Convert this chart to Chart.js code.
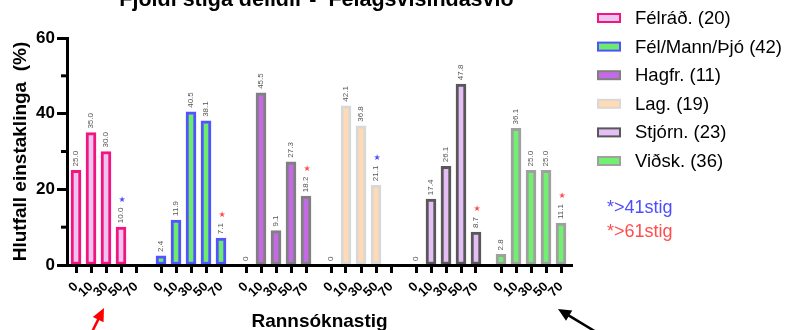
<!DOCTYPE html>
<html>
<head>
<meta charset="UTF-8">
<title>Fjöldi stiga deildir - Félagsvísindasvið</title>
<script src="https://cdn.jsdelivr.net/npm/chart.js"></script>
<style>
    html, body { margin: 0; padding: 0; background: #fff; }
    canvas { display: block; }
</style>
</head>
<body>
<canvas id="chart" width="789" height="330"></canvas>

<script>
    // Gögn
    const stig = ['0', '10', '30', '50', '70'];
    const deildir = ['Félráð. (20)', 'Fél/Mann/Þjó (42)', 'Hagfr. (11)', 'Lag. (19)', 'Stjórn. (23)', 'Viðsk. (36)'];
    const felrad = [25.0, 35.0, 30.0, 10.0, null];
    const felMann = [2.4, 11.9, 40.5, 38.1, 7.1];
    const hagfr = [0, 45.5, 9.1, 27.3, 18.2];
    const lag = [0, 42.1, 36.8, 21.1, null];
    const stjorn = [0, 17.4, 26.1, 47.8, 8.7];
    const vidsk = [2.8, 36.1, 25.0, 25.0, 11.1];
    // stjörnur: [deild, stig, mörk]
    const stjornur = [[0, 3, '41'], [1, 4, '61'], [2, 4, '61'], [3, 3, '41'], [4, 4, '61'], [5, 4, '61']];
    const skyringar = ['*>41stig', '*>61stig'];

    // Útlit
    const FONT = '"Liberation Sans", Arial, sans-serif';
    const borderColors = ['#f2157f', '#5252ff', '#808080', '#d8d8d8', '#585858', '#a0a0a0'];
    const fillColors = ['#eec4f0', '#6cec6c', '#c46ae6', '#ffdab2', '#e4bef4', '#72f072'];
    const starColors = { '41': '#4d4dff', '61': '#ff4d4d' };
    const noteColors = ['#4d4dff', '#ff4d4d'];

    const GROUP = 17, STEP = 3;
    const pos = (g, i) => g * GROUP + i * STEP;

    const values = [felrad, felMann, hagfr, lag, stjorn, vidsk];
    const tickPositions = [];
    const tickText = {};
    values.forEach((v, g) => stig.forEach((s, i) => { tickPositions.push(pos(g, i)); tickText[pos(g, i)] = s; }));

    const datasets = values.map((vals, g) => ({
        label: deildir[g],
        data: vals.map((v, i) => ({ x: pos(g, i), y: v })),
        backgroundColor: fillColors[g],
        borderColor: borderColors[g],
        borderWidth: 3,
        borderSkipped: false,
        barThickness: 10,
        grouped: false
    }));

    const fmt = v => v === 0 ? '0' : v.toFixed(1);

    // Gildi ofan á súlum + stjörnur
    const labelsPlugin = {
        id: 'labels',
        afterDatasetsDraw(chart) {
            const ctx = chart.ctx;
            ctx.save();
            ctx.font = '8px ' + FONT;
            ctx.fillStyle = '#555';
            ctx.textAlign = 'left';
            ctx.textBaseline = 'middle';
            const tops = {};
            chart.data.datasets.forEach((ds, g) => {
                chart.getDatasetMeta(g).data.forEach((bar, i) => {
                    const v = values[g][i];
                    if (v === null || v === undefined) return;
                    const txt = fmt(v);
                    const w = ctx.measureText(txt).width;
                    ctx.save();
                    ctx.translate(bar.x, bar.y - 4);
                    ctx.rotate(-Math.PI / 2);
                    ctx.fillText(txt, 0, 0);
                    ctx.restore();
                    tops[g + '_' + i] = { x: bar.x, y: bar.y - 4 - w };
                });
            });
            ctx.font = '8px "DejaVu Sans", sans-serif';
            ctx.textAlign = 'center';
            ctx.textBaseline = 'middle';
            stjornur.forEach(([g, i, m]) => {
                const t = tops[g + '_' + i];
                if (!t) return;
                ctx.fillStyle = starColors[m];
                ctx.fillText('★', t.x + 1, t.y - 8);
            });
            ctx.restore();
        }
    };

    // Titlar, minni kvarðastrik, skýringar og örvar
    const decorPlugin = {
        id: 'decor',
        afterDraw(chart) {
            const ctx = chart.ctx;
            const area = chart.chartArea;
            const cx = (area.left + area.right) / 2;
            ctx.save();
            ctx.fillStyle = '#000';
            ctx.textAlign = 'center';

            ctx.font = 'bold 21.5px ' + FONT;
            ctx.textBaseline = 'alphabetic';
            ctx.fillText('Fjöldi stiga deildir -  Félagsvísindasvið', cx - 3, 6);

            ctx.font = 'bold 19px ' + FONT;
            ctx.textBaseline = 'middle';
            ctx.fillText('Rannsóknastig', cx, 322);

            ctx.save();
            ctx.translate(21, (area.top + area.bottom) / 2);
            ctx.rotate(-Math.PI / 2);
            ctx.fillText('Hlutfall einstaklinga  (%)', 0, 0);
            ctx.restore();

            // minni kvarðastrik á y-ás
            const y = chart.scales.y;
            ctx.strokeStyle = '#000';
            ctx.lineWidth = 3;
            [10, 30, 50].forEach(v => {
                const py = y.getPixelForValue(v);
                ctx.beginPath();
                ctx.moveTo(area.left - 6, py);
                ctx.lineTo(area.left, py);
                ctx.stroke();
            });

            // skýringar
            ctx.textAlign = 'left';
            ctx.font = '18.5px ' + FONT;
            deildir.forEach((d, g) => {
                const ry = 18 + g * 28.6;
                ctx.fillStyle = borderColors[g];
                ctx.fillRect(597, ry - 5, 24, 10);
                ctx.fillStyle = fillColors[g];
                ctx.fillRect(599, ry - 3, 20, 6);
                ctx.fillStyle = '#000';
                ctx.fillText(d, 635, ry + 1);
            });
            ctx.font = '18px ' + FONT;
            skyringar.forEach((s, k) => {
                ctx.fillStyle = noteColors[k];
                ctx.fillText(s, 607, 208 + k * 24);
            });

            // örvar
            const arrow = (x1, y1, x2, y2, color) => {
                const a = Math.atan2(y2 - y1, x2 - x1);
                ctx.strokeStyle = color;
                ctx.fillStyle = color;
                ctx.lineWidth = 2.5;
                ctx.beginPath();
                ctx.moveTo(x1, y1);
                ctx.lineTo(x2 - 8 * Math.cos(a), y2 - 8 * Math.sin(a));
                ctx.stroke();
                ctx.beginPath();
                ctx.moveTo(x2, y2);
                ctx.lineTo(x2 - 13 * Math.cos(a) + 6 * Math.sin(a), y2 - 13 * Math.sin(a) - 6 * Math.cos(a));
                ctx.lineTo(x2 - 13 * Math.cos(a) - 6 * Math.sin(a), y2 - 13 * Math.sin(a) + 6 * Math.cos(a));
                ctx.closePath();
                ctx.fill();
            };
            arrow(90, 336, 104, 308, '#ff0000');
            arrow(606, 338, 558, 309, '#000000');
            ctx.restore();
        }
    };

    const ctx = document.getElementById('chart').getContext('2d');
    const chart = new Chart(ctx, {
        type: 'bar',
        data: { datasets: datasets },
        options: {
            responsive: false,
            animation: false,
            layout: { padding: { top: 38, right: 217, left: 0, bottom: 0 } },
            plugins: {
                legend: { display: false },
                tooltip: { enabled: false }
            },
            scales: {
                x: {
                    type: 'linear',
                    min: -1.8,
                    max: 99.2,
                    offset: false,
                    afterBuildTicks: s => { s.ticks = tickPositions.map(v => ({ value: v })); },
                    afterFit: s => { s.height = 65; },
                    ticks: {
                        autoSkip: false,
                        minRotation: 45,
                        maxRotation: 45,
                        padding: 6,
                        color: '#000',
                        font: { family: FONT, weight: 'bold', size: 13 },
                        callback: v => tickText[v] !== undefined ? tickText[v] : ''
                    },
                    grid: { drawOnChartArea: false, offset: false, tickLength: 8, tickWidth: 3, tickColor: '#000' },
                    border: { display: true, width: 3, color: '#000', z: 1 }
                },
                y: {
                    min: 0,
                    max: 60,
                    afterFit: s => { s.width = 67; },
                    ticks: {
                        stepSize: 10,
                        padding: 2,
                        color: '#000',
                        font: { family: FONT, weight: 'bold', size: 17 },
                        callback: v => v % 20 === 0 ? v : ''
                    },
                    grid: {
                        drawOnChartArea: false,
                        tickLength: 10,
                        tickWidth: 3,
                        tickColor: c => (c.tick && c.tick.value % 20 === 0) ? '#000' : 'rgba(0,0,0,0)'
                    },
                    border: { display: true, width: 3, color: '#000', z: 1 }
                }
            }
        },
        plugins: [labelsPlugin, decorPlugin]
    });
</script>
</body>
</html>
